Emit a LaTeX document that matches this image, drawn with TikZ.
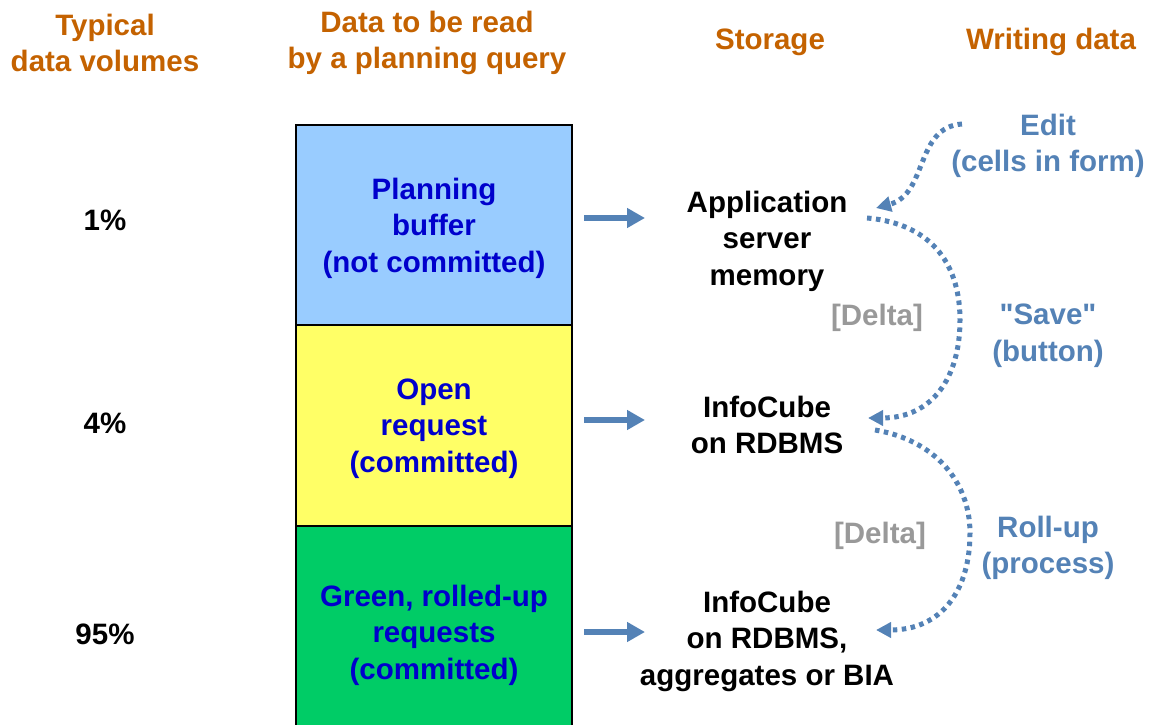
\documentclass[tikz,border=0pt]{standalone}
\usepackage{fontspec}
\setmainfont{Liberation Sans}[Ligatures=TeXOff]
\usetikzlibrary{arrows.meta}
\definecolor{headorange}{RGB}{196,98,0}
\definecolor{boxtext}{RGB}{0,0,204}
\definecolor{bufblue}{RGB}{153,204,255}
\definecolor{openyellow}{RGB}{255,255,102}
\definecolor{rollgreen}{RGB}{0,204,102}
\definecolor{steel}{RGB}{84,130,182}
\definecolor{deltagray}{RGB}{153,153,153}
\tikzset{
  txt/.style={font=\fontsize{29.5}{36.5}\selectfont\bfseries, align=center, inner sep=0pt},
  head/.style={txt, text=headorange},
  storebox/.style={txt, text=black},
  action/.style={txt, text=steel},
  delta/.style={txt, text=deltagray},
  layer/.style={txt, text=boxtext, draw=black, line width=2pt,
    minimum width=276pt, anchor=north west},
  fatarrow/.style={draw=steel, line width=6pt,
    -{Triangle[length=18pt,width=19pt]}},
  flow/.style={draw=steel, line width=5pt, dash pattern=on 4.5pt off 4.5pt,
    -{Triangle[length=15pt,width=15pt]}}
}
\begin{document}
\begin{tikzpicture}[x=1pt,y=-1pt]
\useasboundingbox (0,0) rectangle (1156,725);
\clip (0,0) rectangle (1156,725);

% column headings
\node[head] (hvol)   at (105,43)  {Typical\\data volumes};
\node[head] (hread)  at (427,43)  {Data to be read\\by a planning query};
\node[head] (hstore) at (770,42)  {Storage};
\node[head] (hwrite) at (1051,42) {Writing data};

% share of the data volume
\node[storebox] (p1)  at (105,220) {1\%};
\node[storebox] (p4)  at (105,423) {4\%};
\node[storebox] (p95) at (105,634) {95\%};

% stacked layers read by the query
\node[layer, fill=bufblue, minimum height=200pt, text depth=-4pt]    (buf)  at (295,124) {Planning\\buffer\\(not committed)};
\node[layer, fill=openyellow, minimum height=201pt, text depth=-4pt] (open) at (295,324) {Open\\request\\(committed)};
\node[layer, fill=rollgreen, minimum height=212pt, text depth=-4pt]  (roll) at (295,525) {Green, rolled-up\\requests\\(committed)};

% storage locations
\node[storebox] (asm)  at (767,241) {Application\\server\\memory};
\node[storebox] (ic)   at (767,425) {InfoCube\\on RDBMS};
\node[storebox] (icag) at (767,641) {InfoCube\\on RDBMS,\\aggregates or BIA};

% write actions
\node[action] (edit) at (1048,146) {Edit\\(cells in form)};
\node[action] (save) at (1048,336) {"Save"\\(button)};
\node[action] (rollup) at (1048,548) {Roll-up\\(process)};

\node[delta] (d1) at (877,318) {[Delta]};
\node[delta] (d2) at (880,536) {[Delta]};

% read arrows from the layers to their storage
\coordinate (r1s) at ([xshift=11pt]buf.east |- 0,218);
\coordinate (r1e) at (645,218);
\coordinate (r2s) at ([xshift=11pt]open.east |- 0,420);
\coordinate (r2e) at (645,420);
\coordinate (r3s) at ([xshift=11pt]roll.east |- 0,632);
\coordinate (r3e) at (645,632);
\draw[fatarrow] (r1s) -- (r1e);
\draw[fatarrow] (r2s) -- (r2e);
\draw[fatarrow] (r3s) -- (r3e);

% write flow
\coordinate (e0) at (962,124);
\coordinate (e1) at (876,208);
\coordinate (s0) at (867,218);
\coordinate (s1) at (868,418);
\coordinate (u0) at (875,430);
\coordinate (u1) at (876,630);
\draw[flow] (e0) .. controls (915,127) and (928,194) .. (e1);
\draw[flow] (s0) .. controls (935,224) and (960,268) .. (960,320)
               .. controls (960,378) and (932,418) .. (s1);
\draw[flow] (u0) .. controls (935,440) and (970,482) .. (970,533)
               .. controls (970,590) and (942,630) .. (u1);
\end{tikzpicture}
\end{document}
